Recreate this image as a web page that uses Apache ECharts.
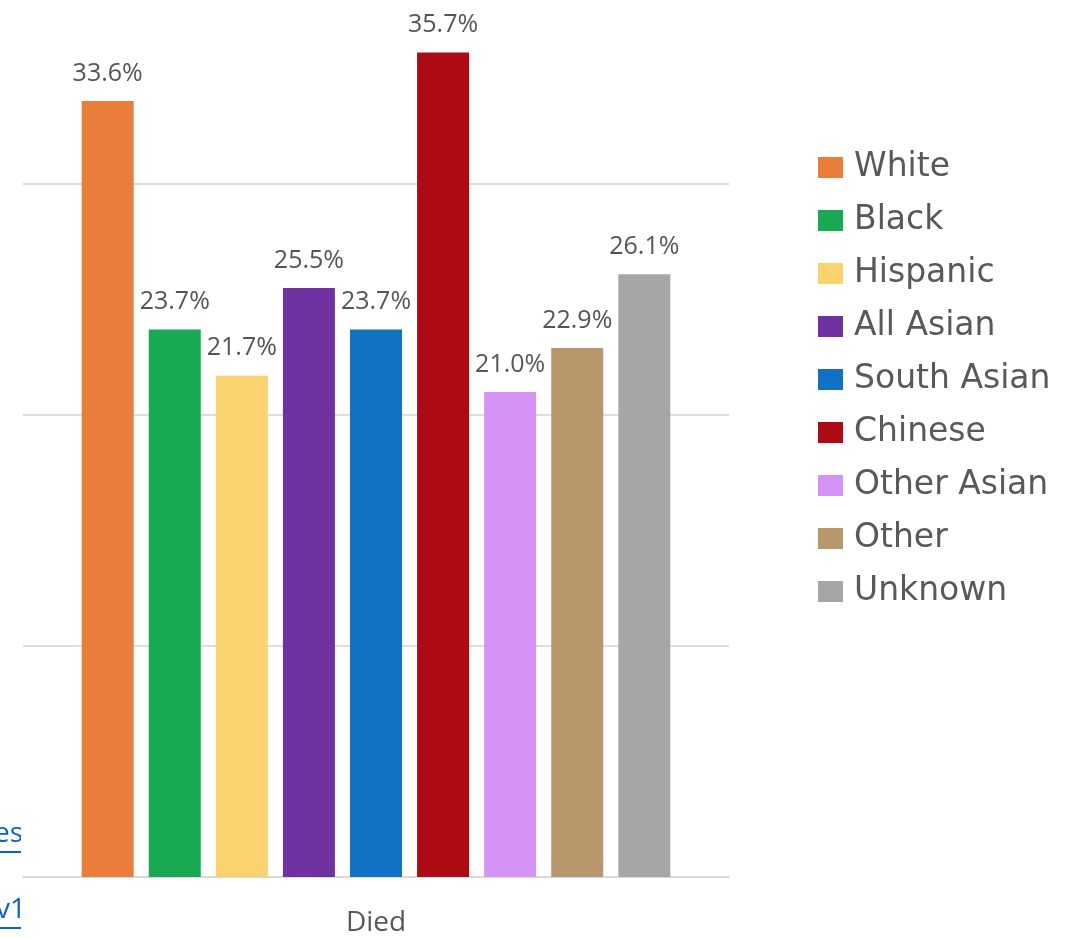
<!DOCTYPE html>
<html>
<head>
<meta charset="utf-8">
<script src="https://cdn.jsdelivr.net/npm/echarts@6/dist/echarts.min.js"></script>
<style>
html,body{margin:0;padding:0;background:#fff;}
#chart{width:1081px;height:938px;}
</style>
</head>
<body>
<div id="chart"></div>
<script>
const categories = ['Died'];
const seriesNames = ['White','Black','Hispanic','All Asian','South Asian','Chinese','Other Asian','Other','Unknown'];
const seriesValues = [33.6, 23.7, 21.7, 25.5, 23.7, 35.7, 21.0, 22.9, 26.1];
const seriesColors = ['#EB7D3A','#1AA953','#F9D46E','#7132A1','#1171C2','#AC0B13','#D693F6','#B9976C','#A6A6A6'];
const yMin = 0;
const yMax = 37.97;
const yInterval = 10;

const chart = echarts.init(document.getElementById('chart'), null, {renderer:'canvas'});

const series = seriesNames.map((name, i) => ({
  name: name,
  type: 'bar',
  data: [seriesValues[i]],
  barWidth: 52,
  barGap: '29%',
  itemStyle: {color: seriesColors[i]},
  label: {
    show: true,
    position: 'top',
    distance: 15,
    formatter: p => p.value.toFixed(1) + '%',
    fontFamily: 'Open Sans',
    fontSize: 25,
    color: '#555555'
  }
}));

chart.setOption({
  animation: false,
  backgroundColor: '#ffffff',
  grid: {left: 23, right: 352, top: 0, bottom: 61, containLabel: false},
  xAxis: {
    type: 'category',
    data: categories,
    axisLine: {show: true, lineStyle: {color: '#d9d9d9', width: 2}},
    axisTick: {show: false},
    axisLabel: {fontFamily: 'Open Sans', fontSize: 28, color: '#595959', margin: 32}
  },
  yAxis: {
    type: 'value',
    min: yMin,
    max: yMax,
    interval: yInterval,
    axisLine: {show: false},
    axisTick: {show: false},
    axisLabel: {show: false},
    splitLine: {showMaxLine: false, showMinLine: false, lineStyle: {color: '#dedede', width: 2}}
  },
  legend: {
    orient: 'vertical',
    left: 813,
    top: 146,
    itemWidth: 25,
    itemHeight: 21,
    itemGap: 20,
    icon: 'rect',
    data: seriesNames,
    textStyle: {fontFamily: 'DejaVu Sans', fontSize: 33, color: '#595959', padding: [0,0,0,6]}
  },
  graphic: [
    {type: 'text', left: -6, top: 820, z: 1, style: {text: 'es', font: '28px "Open Sans"', fill: '#0b63c8'}},
    {type: 'line', z: 1, shape: {x1: 0, y1: 852, x2: 21, y2: 852}, style: {stroke: '#0b63c8', lineWidth: 2}},
    {type: 'text', left: -4, top: 896, z: 1, style: {text: 'v1', font: '28px "Open Sans"', fill: '#0b63c8'}},
    {type: 'line', z: 1, shape: {x1: 0, y1: 928, x2: 21, y2: 928}, style: {stroke: '#0b63c8', lineWidth: 2}},
    {type: 'rect', z: 2, shape: {x: 21, y: 812, width: 30, height: 52}, style: {fill: '#ffffff'}},
    {type: 'rect', z: 2, shape: {x: 21, y: 890, width: 30, height: 48}, style: {fill: '#ffffff'}}
  ],
  series: series
});
</script>
</body>
</html>
